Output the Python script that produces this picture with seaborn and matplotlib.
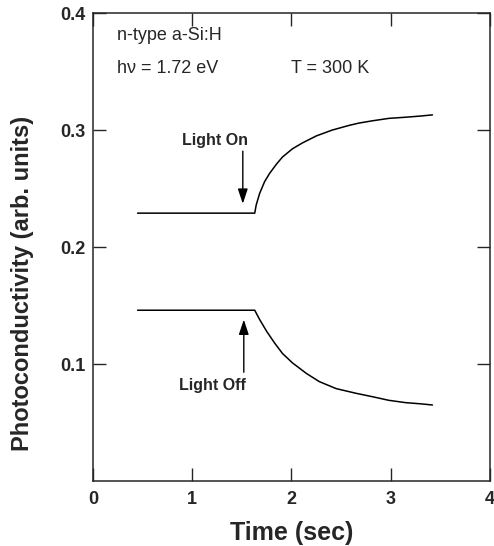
import pandas as pd
import matplotlib
matplotlib.use("Agg")
import matplotlib.pyplot as plt
import seaborn as sns

# Values
time_on = [0.45, 1.0, 1.63, 1.645, 1.68, 1.73, 1.78, 1.85, 1.91, 2.01, 2.11, 2.25,
           2.41, 2.58, 2.68, 2.82, 2.98, 3.15, 3.30, 3.42]
sig_on = [0.229, 0.229, 0.229, 0.236, 0.246, 0.256, 0.263, 0.271, 0.277, 0.284, 0.289, 0.295,
          0.300, 0.304, 0.306, 0.308, 0.310, 0.311, 0.312, 0.313]
time_off = [0.45, 1.0, 1.63, 1.68, 1.75, 1.83, 1.91, 2.01, 2.15, 2.28, 2.45, 2.65,
            2.82, 2.98, 3.15, 3.30, 3.42]
sig_off = [0.146, 0.146, 0.146, 0.138, 0.128, 0.118, 0.109, 0.101, 0.092, 0.085, 0.079, 0.075,
           0.072, 0.069, 0.067, 0.066, 0.065]

x_ticks = [0, 1, 2, 3, 4]
y_ticks = [0.1, 0.2, 0.3, 0.4]
y_ticklabels = ["0.1", "0.2", "0.3", "0.4"]

# label text, text position, arrow tip / tail
arrow_labels = ["Light On", "Light Off"]
arrow_text_xy = [(1.23, 0.291), (1.20, 0.082)]
arrow_tip_xy = [(1.51, 0.237), (1.52, 0.138)]
arrow_tail_xy = [(1.51, 0.282), (1.52, 0.093)]

df_on = pd.DataFrame({"time": time_on, "sigma": sig_on})
df_off = pd.DataFrame({"time": time_off, "sigma": sig_off})

sns.set_style("ticks")
plt.rcParams["font.family"] = ["Liberation Sans", "DejaVu Sans"]

fig = plt.figure(figsize=(4.94, 5.46), dpi=100)
ax = fig.add_axes([0.188, 0.119, 0.804, 0.857])

sns.lineplot(data=df_on, x="time", y="sigma", color="black", linewidth=1.1, ax=ax)
sns.lineplot(data=df_off, x="time", y="sigma", color="black", linewidth=1.1, ax=ax)

ax.set_xlim(0, 4)
ax.set_ylim(0, 0.4)
ax.set_xticks(x_ticks)
ax.set_yticks(y_ticks)
ax.set_yticklabels(y_ticklabels)
ax.tick_params(direction="in", length=9.5, width=1.0, top=True, right=True,
               labelsize=13, pad=5)
ax.tick_params(axis="x", pad=7)
for lbl in ax.get_xticklabels() + ax.get_yticklabels():
    lbl.set_fontweight("bold")
for sp in ax.spines.values():
    sp.set_linewidth(1.1)
    sp.set_visible(True)

ax.set_xlabel("Time (sec)", fontsize=18, fontweight="bold")
ax.set_ylabel("Photoconductivity (arb. units)", fontsize=17, fontweight="bold")
ax.xaxis.set_label_coords(0.50, -0.111)
ax.yaxis.set_label_coords(-0.176, 0.423)
ax.xaxis.label.set_va("center")
ax.yaxis.label.set_va("center")

ax.text(0.24, 0.381, "n-type a-Si:H", fontsize=13, va="center")
ax.text(0.24, 0.353, "h\u03bd = 1.72 eV", fontsize=13, va="center")
ax.text(2.0, 0.353, "T = 300 K", fontsize=13, va="center")

for lab, txy, tip, tail in zip(arrow_labels, arrow_text_xy, arrow_tip_xy, arrow_tail_xy):
    ax.text(txy[0], txy[1], lab, fontsize=11.5, fontweight="bold", ha="center", va="center")
    ax.annotate("", xy=tip, xytext=tail,
                arrowprops=dict(arrowstyle="-|>,head_length=0.9,head_width=0.3",
                                color="black", lw=1.0, shrinkA=0, shrinkB=0))

fig.savefig("out.png", dpi=100)
